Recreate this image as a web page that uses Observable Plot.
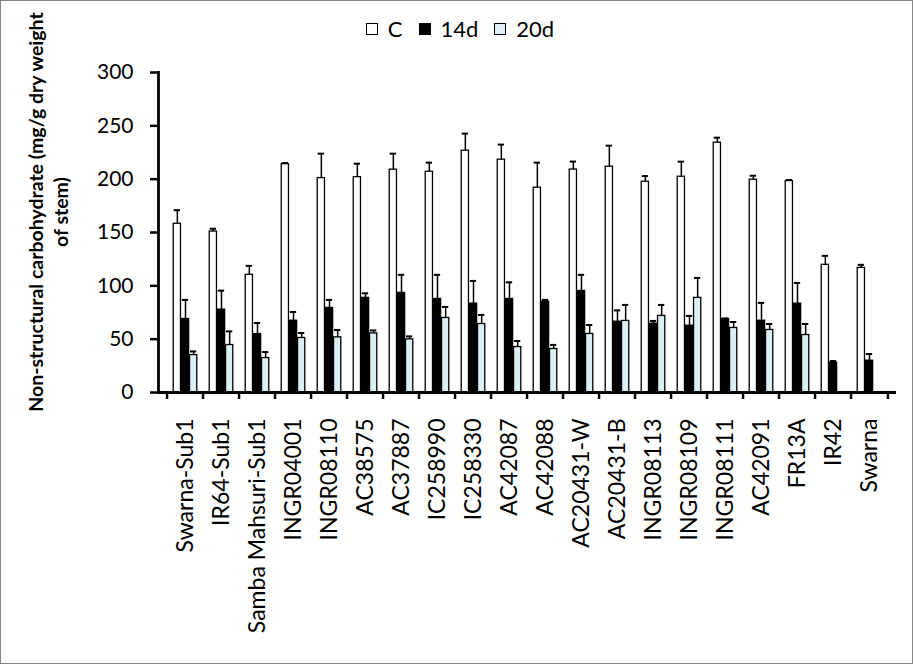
<!DOCTYPE html>
<html><head><meta charset="utf-8">
<script src="https://cdn.jsdelivr.net/npm/d3@7"></script>
<script src="https://cdn.jsdelivr.net/npm/@observablehq/plot@0.6"></script>
<style>
body{margin:0;background:#fff;}
#chart{position:relative;width:911px;height:662px;border:1px solid #868686;background:#fff;font-family:Lato,sans-serif;overflow:hidden;color:#000}
#legend{height:50px;display:flex;justify-content:center;align-items:flex-start;padding-left:7px;box-sizing:border-box;padding-top:17px;font-size:22px;line-height:22px}
.item{display:flex;align-items:center;margin:0 8px}
.sw{width:12px;height:12px;border:1px solid #000;margin-right:10px;box-sizing:border-box}
#ytitle{position:absolute;left:-183px;top:186px;width:460px;height:50px;line-height:25px;font-size:19.5px;font-weight:bold;text-align:center;transform:rotate(-90deg);transform-origin:50% 50%;white-space:pre}
</style></head><body>
<div id="chart"><div id="legend"></div><div id="ytitle"></div></div>
<script>
const categories = ["Swarna-Sub1","IR64-Sub1","Samba Mahsuri-Sub1","INGR04001","INGR08110","AC38575","AC37887","IC258990","IC258330","AC42087","AC42088","AC20431-W","AC20431-B","INGR08113","INGR08109","INGR08111","AC42091","FR13A","IR42","Swarna"];
const series = ["C","14d","20d"];
const seriesColors = ["#ffffff","#000000","#daeef3"];
const valuesC   = [158.2,150.9,110.3,214.1,201.0,201.9,208.9,207.0,226.7,218.3,192.0,209.0,211.7,197.6,202.3,234.2,199.5,198.2,119.7,116.8];
const errorsC   = [12.7,2.6,8.4,1.0,22.9,12.6,15.0,8.5,16.0,14.1,23.5,7.5,19.7,5.3,14.1,4.7,3.7,1.0,8.4,2.9];
const values14d = [68.9,77.7,54.8,67.3,79.3,88.7,93.4,87.7,83.3,87.7,85.2,95.2,66.4,64.5,62.6,68.9,67.3,83.3,27.9,29.8];
const errors14d = [17.9,17.8,10.4,8.2,7.5,4.3,16.9,22.6,21.3,15.6,1.6,15.1,10.6,2.6,9.2,0.5,16.7,19.4,1.6,6.3];
const values20d = [35.1,44.5,32.3,51.1,51.7,55.4,49.8,69.9,64.2,42.6,40.8,54.9,67.1,71.8,88.7,60.5,58.6,53.9,null,null];
const errors20d = [3.4,12.8,5.6,4.7,6.9,2.8,2.8,10.3,8.5,5.7,3.8,8.4,15.0,10.3,18.7,5.6,5.6,10.3,null,null];
const yTicks = [0,50,100,150,200,250,300];
const yTitle = "Non-structural carbohydrate (mg/g dry weight\nof stem)";

const valueSets = [valuesC, values14d, values20d];
const errorSets = [errorsC, errors14d, errors20d];
const rows = [];
series.forEach((s, si) => categories.forEach((c, ci) => {
  const v = valueSets[si][ci];
  if (v != null) rows.push({category: c, series: s, value: v, err: errorSets[si][ci]});
}));

// legend
const legend = document.getElementById("legend");
series.forEach((s, i) => {
  const it = document.createElement("div"); it.className = "item";
  const sw = document.createElement("div"); sw.className = "sw"; sw.style.background = seriesColors[i];
  const t = document.createElement("span"); t.textContent = s;
  it.append(sw, t); legend.append(it);
});
document.getElementById("ytitle").textContent = yTitle;

const W = 911, H = 612;
const mL = 157, mR = 16, mT = 21, mB = 271;
const step = (W - mL - mR) / categories.length;
const barW = step * 0.221;
const ins = (step - barW) / 2;
const offsets = [-barW, 0, barW];

const marks = [];
series.forEach((s, si) => {
  const data = rows.filter(d => d.series === s);
  marks.push(Plot.barY(data, {x: "category", y: "value", fill: seriesColors[si], stroke: "#000", strokeWidth: 1.3, insetLeft: ins, insetRight: ins, dx: offsets[si]}));
});
series.forEach((s, si) => {
  const data = rows.filter(d => d.series === s && d.err > 0);
  marks.push(Plot.ruleX(data, {x: "category", y1: "value", y2: d => d.value + d.err, dx: offsets[si], stroke: "#000", strokeWidth: 1.5}));
  marks.push(Plot.tickY(data, {x: "category", y: d => d.value + d.err, dx: offsets[si], insetLeft: ins + 0.5, insetRight: ins + 0.5, stroke: "#000", strokeWidth: 2}));
});

const plot = Plot.plot({
  width: W, height: H,
  marginLeft: mL, marginRight: mR, marginTop: mT, marginBottom: mB,
  style: {fontFamily: "Lato, sans-serif", color: "#000", background: "#fff"},
  x: {domain: categories, padding: 0, label: null},
  y: {domain: [0, 300], label: null},
  marks: [
    ...marks,
    Plot.axisY({ticks: yTicks, tickSize: 8, tickPadding: 17, fontSize: 21, strokeWidth: 2.5, label: null}),
    Plot.axisX({tickSize: 0, tickRotate: -90, tickPadding: 26, fontSize: 23, label: null}),
    Plot.axisX({tickSize: 7, tickFormat: () => "", dx: -step / 2, strokeWidth: 2.5, label: null}),
    Plot.axisX([categories[categories.length - 1]], {tickSize: 7, tickFormat: () => "", dx: step / 2, strokeWidth: 2.5, label: null}),
    Plot.ruleY([0], {strokeWidth: 2.8}),
    Plot.frame({anchor: "left", strokeWidth: 2.8})
  ]
});
document.getElementById("chart").append(plot);
</script>
</body></html>
